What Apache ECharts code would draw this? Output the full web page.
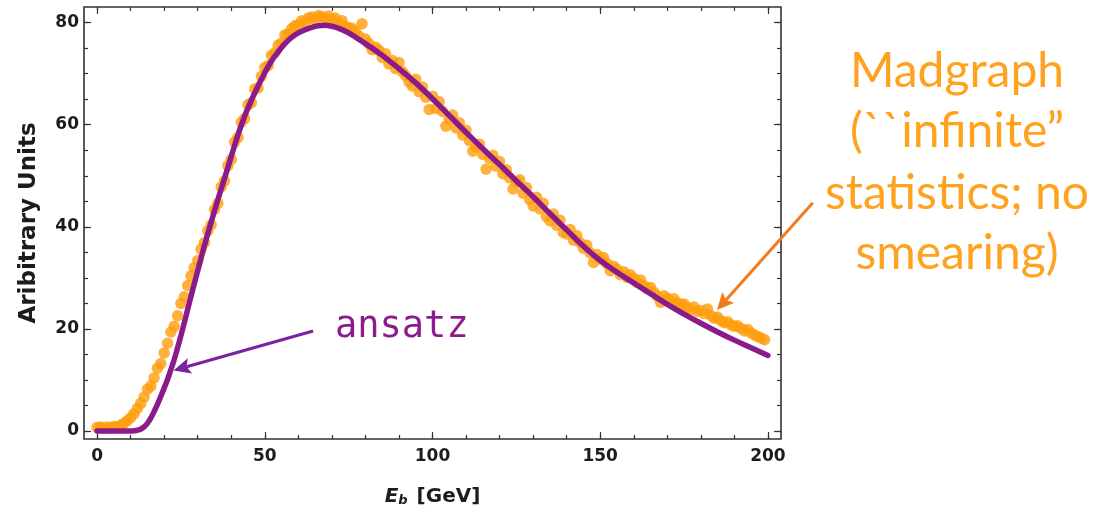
<!DOCTYPE html>
<html><head><meta charset="utf-8">
<script src="https://cdn.jsdelivr.net/npm/echarts@6/dist/echarts.min.js"></script>
<style>html,body{margin:0;padding:0;background:#fff}#c{width:1094px;height:508px}</style>
</head><body><div id="c"></div>
<script>
// Madgraph sample: one point per GeV starting at 0
const madStartE = 0;
const madStepE = 1;
const madValues = [
 0.7, 0.8, 0.6, 0.8, 0.7, 0.9, 0.8, 1.1, 1.5, 2.0,
 2.6, 3.4, 4.4, 5.4, 6.6, 8.2, 8.8, 10.4, 12.3, 13.2,
 15.3, 17.2, 19.4, 20.5, 22.6, 25.0, 26.3, 28.5, 30.4, 32.0,
 33.4, 35.6, 36.9, 39.2, 40.4, 43.4, 44.6, 47.8, 49.0, 52.0,
 53.2, 56.6, 57.5, 60.5, 61.2, 63.9, 64.3, 67.0, 67.2, 69.5,
 71.2, 71.6, 73.6, 74.1, 75.6, 76.0, 77.6, 77.8, 78.8, 79.4,
 79.6, 80.4, 80.0, 80.9, 81.1, 80.6, 81.4, 81.2, 80.8, 81.3,
 80.6, 80.9, 79.9, 80.4, 79.3, 79.0, 78.9, 78.3, 77.4, 79.8,
 76.8, 75.9, 74.7, 75.2, 74.6, 73.2, 73.9, 71.9, 72.6, 71.0,
 72.2, 70.4, 69.6, 68.4, 67.6, 68.9, 66.5, 67.4, 65.4, 63.0,
 65.6, 63.2, 64.5, 62.6, 59.7, 61.1, 61.9, 59.4, 60.4, 58.0,
 58.9, 56.9, 54.8, 55.7, 56.2, 54.2, 51.3, 53.4, 54.0, 51.9,
 52.8, 50.4, 51.2, 49.6, 47.4, 48.9, 49.2, 46.6, 47.7, 45.3,
 44.1, 45.8, 43.5, 44.6, 42.0, 41.2, 42.5, 40.3, 41.3, 38.9,
 38.6, 39.5, 37.4, 38.3, 36.9, 35.8, 36.4, 34.9, 33.0, 34.6,
 33.7, 34.0, 32.8, 31.4, 32.3, 31.7, 30.6, 31.2, 30.1, 30.6,
 29.9, 29.1, 29.6, 28.5, 27.9, 28.1, 27.2, 26.4, 25.2, 26.5,
 26.0, 25.4, 25.9, 25.1, 24.8, 24.9, 24.2, 23.8, 24.3, 23.4,
 23.6, 23.0, 23.9, 22.6, 22.1, 22.3, 21.6, 21.2, 21.4, 20.8,
 20.5, 20.6, 20.1, 19.6, 19.9, 19.2, 18.8, 18.5, 18.2, 17.9
];
// Ansatz curve
const ansatzE = [0,5,10,11,12,13,14,15,16,17,18,19,20,21,22,23,24,25,26,27,28,29,30,32,34,36,38,40,42,44,46,48,50,52,54,56,58,60,62,64,66,68,70,72,75,80,85,90,95,100,105,110,115,120,125,130,135,140,145,150,155,160,165,170,175,180,185,190,195,200];
const ansatzValues = [0,0,0,0.05,0.15,0.35,0.8,1.5,2.5,3.8,5.2,6.8,8.4,10.1,12,14,16.3,18.7,21.2,23.8,26.4,28.9,31.4,36.3,40.9,45.3,49.5,53.8,58.0,61.7,64.8,67.6,70.2,72.5,74.3,75.9,77.1,78.0,78.6,79.1,79.4,79.5,79.3,78.9,78.0,75.9,73.6,71.0,68.2,65.1,61.8,58.5,55.3,52.2,49.0,45.9,42.6,39.4,36.2,33.4,31.1,29.0,26.9,24.8,22.9,21.1,19.4,17.8,16.3,14.8];
// Ticks
const xMajorTicks = [0, 50, 100, 150, 200];
const xMinorTicks = [0,10,20,30,40,50,60,70,80,90,100,110,120,130,140,150,160,170,180,190,200];
const yMajorTicks = [0, 20, 40, 60, 80];
const yMinorTicks = [0,5,10,15,20,25,30,35,40,45,50,55,60,65,70,75,80];
const xRange = [-3.9, 203.9];
const yRange = [-1.57, 83.07];
// Annotation arrows in data coordinates [E, value]
const ansatzArrowFrom = [64.4, 19.6];
const ansatzArrowTo = [22.8, 11.85];
const madArrowFrom = [213.4, 44.7];
const madArrowTo = [184.8, 23.7];

const frameColor = '#333';
const boldFont = '"DejaVu Sans", Verdana, sans-serif';
const labelFont = {fontFamily: boldFont, fontWeight: 'bold', fontSize: 17, color: '#1c1c1c'};

function xAx(pos, ticks, len, withLabels) {
  const a = {
    type: 'value', position: pos, min: xRange[0], max: xRange[1],
    axisLine: {show: false, onZero: false}, splitLine: {show: false},
    axisTick: {show: true, inside: true, length: len, customValues: ticks, lineStyle: {color: frameColor, width: 1.2}},
    axisLabel: withLabels ? Object.assign({show: true, margin: 9, customValues: xMajorTicks}, labelFont) : {show: false}
  };
  if (withLabels) {
    a.name = '{e|E}{b|b}{s| }{g|[GeV]}';
    a.nameLocation = 'middle';
    a.nameGap = 47;
    a.nameTextStyle = {
      rich: {
        e: {fontFamily: boldFont, fontWeight: 'bold', fontStyle: 'italic', fontSize: 20, color: '#1c1c1c'},
        b: {fontFamily: boldFont, fontWeight: 'bold', fontStyle: 'italic', fontSize: 13, color: '#1c1c1c', padding: [8, 0, 0, 0]},
        s: {fontSize: 20, width: 9},
        g: {fontFamily: boldFont, fontWeight: 'bold', fontSize: 20, color: '#1c1c1c'}
      }
    };
  }
  return a;
}
function yAx(pos, ticks, len, withLabels) {
  const a = {
    type: 'value', position: pos, min: yRange[0], max: yRange[1],
    axisLine: {show: false, onZero: false}, splitLine: {show: false},
    axisTick: {show: true, inside: true, length: len, customValues: ticks, lineStyle: {color: frameColor, width: 1.2}},
    axisLabel: withLabels ? Object.assign({show: true, margin: 5, customValues: yMajorTicks}, labelFont) : {show: false}
  };
  if (withLabels) {
    a.name = 'Aribitrary Units';
    a.nameLocation = 'middle';
    a.nameGap = 43;
    a.nameRotate = 90;
    a.nameTextStyle = {fontFamily: boldFont, fontWeight: 'bold', fontSize: 23, color: '#1c1c1c'};
  }
  return a;
}

const chart = echarts.init(document.getElementById('c'), null, {renderer: 'canvas'});
chart.setOption({
  animation: false,
  backgroundColor: '#fff',
  grid: {left: 84, top: 7, right: 313, bottom: 69, containLabel: false, outerBoundsMode: 'none', show: true, borderColor: frameColor, borderWidth: 1.6, backgroundColor: 'transparent'},
  xAxis: [xAx('bottom', xMajorTicks, 7, true), xAx('bottom', xMinorTicks, 4, false), xAx('top', xMajorTicks, 7, false), xAx('top', xMinorTicks, 4, false)],
  yAxis: [yAx('left', yMajorTicks, 7, true), yAx('left', yMinorTicks, 4, false), yAx('right', yMajorTicks, 7, false), yAx('right', yMinorTicks, 4, false)],
  series: [
    {
      name: 'Madgraph', type: 'scatter', xAxisIndex: 0, yAxisIndex: 0,
      data: madValues.map((v, i) => [madStartE + i * madStepE, v]),
      symbol: 'circle', symbolSize: 11.5,
      itemStyle: {color: '#FF9E0C'}, z: 2
    },
    {
      name: 'ansatz', type: 'line', xAxisIndex: 0, yAxisIndex: 0,
      data: ansatzE.map((e, i) => [e, ansatzValues[i]]),
      showSymbol: false, smooth: 0.4,
      lineStyle: {color: '#8B1A8B', width: 5.5, cap: 'round'}, z: 3
    }
  ]
});

function arrow(fromD, toD, color, width, headLen, headHalf) {
  const p0 = chart.convertToPixel({gridIndex: 0}, fromD);
  const p1 = chart.convertToPixel({gridIndex: 0}, toD);
  const dx = p1[0] - p0[0], dy = p1[1] - p0[1];
  const L = Math.hypot(dx, dy);
  const ux = dx / L, uy = dy / L, nx = -uy, ny = ux;
  const bx = p1[0] - ux * headLen, by = p1[1] - uy * headLen;
  const nxp = p1[0] - ux * headLen * 0.8, nyp = p1[1] - uy * headLen * 0.8;
  return [
    {type: 'line', shape: {x1: p0[0], y1: p0[1], x2: nxp, y2: nyp}, style: {stroke: color, lineWidth: width}, z: 10},
    {type: 'polygon', shape: {points: [[p1[0], p1[1]], [bx + nx * headHalf, by + ny * headHalf], [nxp, nyp], [bx - nx * headHalf, by - ny * headHalf]]}, style: {fill: color}, z: 10}
  ];
}

const madFont = '48px Lato, "Open Sans", sans-serif';
const madColor = '#FFA21F';
function madLine(text, y) {
  return {type: 'text', x: 957, y: y, style: {text: text, font: madFont, fill: madColor, align: 'center', verticalAlign: 'middle', textAlign: 'center', textVerticalAlign: 'middle'}, z: 10};
}
const g = [].concat(
  arrow(ansatzArrowFrom, ansatzArrowTo, '#7A22A0', 3, 17, 8),
  arrow(madArrowFrom, madArrowTo, '#F47A1E', 3, 17, 8),
  [
    {type: 'text', x: 335, y: 327, style: {text: 'ansatz', font: '37px "DejaVu Sans Mono", monospace', fill: '#8C1C8C', align: 'left', verticalAlign: 'middle', textAlign: 'left', textVerticalAlign: 'middle'}, z: 10},
    madLine('Madgraph', 72),
    madLine('(``infinite\u201D', 132),
    madLine('statistics; no', 194),
    madLine('smearing)', 254)
  ]
);
chart.setOption({graphic: g});
</script>
</body></html>
